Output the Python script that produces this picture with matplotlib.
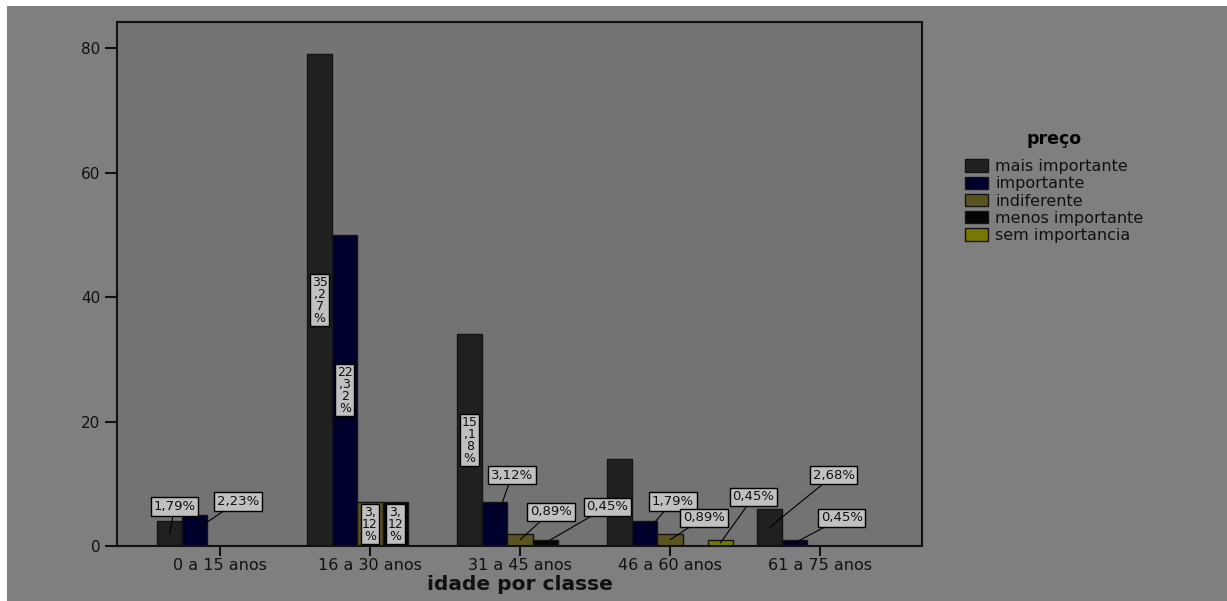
import matplotlib.pyplot as plt
from matplotlib.patches import Rectangle
import numpy as np

# counts per age class for each "preço" rating
groups = ['0 a 15 anos', '16 a 30 anos', '31 a 45 anos', '46 a 60 anos', '61 a 75 anos']
levels = ['mais importante', 'importante', 'indiferente', 'menos importante', 'sem importancia']
mais_importante = [4, 79, 34, 14, 6]
importante = [5, 50, 7, 4, 1]
indiferente = [0, 7, 2, 2, 0]
menos_importante = [0, 7, 1, 0, 0]
sem_importancia = [0, 0, 0, 1, 0]

counts = [mais_importante, importante, indiferente, menos_importante, sem_importancia]
total = sum(sum(c) for c in counts)
colors = ['#202020', '#00002c', '#5a5420', '#050505', '#787800']

# (level, group) -> pixel offset of the callout box, None = label inside the bar
callouts = {
    (0, 0): (5, 27), (1, 0): (43, 29),
    (0, 1): None, (1, 1): None, (2, 1): None, (3, 1): None,
    (0, 2): None, (1, 2): (17, 49), (2, 2): (31, 28), (3, 2): (62, 36),
    (1, 3): (28, 32), (2, 3): (34, 22), (4, 3): (33, 46),
    (0, 4): (64, 52), (1, 4): (47, 25),
}


def fmt(v):
    return f'{v / total * 100:.2f}'.replace('.', ',') + '%'


def stack(s):
    body = s[:-1]
    lines = [body[k:k + 2] for k in range(0, len(body), 2)]
    return '\n'.join(lines + ['%'])


plt.rcParams['font.family'] = 'DejaVu Sans'
fig = plt.figure(figsize=(12.27, 6.01), dpi=100, facecolor='white')
fig.add_artist(Rectangle((7 / 1227, 0), 1, 595 / 601, transform=fig.transFigure,
                         facecolor='#7f7f7f', edgecolor='none', zorder=-10))
ax = fig.add_axes([117 / 1227, 55 / 601, 805 / 1227, 524 / 601])
ax.set_facecolor('#737373')

x = np.arange(len(groups))
w = 0.168
for i, (lvl, vals) in enumerate(zip(levels, counts)):
    ax.bar(x + (i - 2) * w, vals, w, color=colors[i], edgecolor='#141414',
           linewidth=1, label=lvl, zorder=2)

box = dict(boxstyle='square,pad=0.2', fc='#c0c0c0', ec='black', lw=1)
for (i, g), off in callouts.items():
    h = counts[i][g]
    xc = x[g] + (i - 2) * w
    s = fmt(h)
    if off is None:
        ax.text(xc, h / 2, stack(s), ha='center', va='center', fontsize=9,
                linespacing=0.9, color='#111111', zorder=4,
                bbox=dict(boxstyle='square,pad=0.12', fc='#c0c0c0', ec='black', lw=1))
    else:
        ax.annotate(s, xy=(xc, h / 2), xytext=off, textcoords='offset pixels',
                    ha='center', va='center', fontsize=9.5, color='#111111',
                    bbox=box, zorder=4,
                    arrowprops=dict(arrowstyle='-', color='black', lw=0.8,
                                    shrinkA=0, shrinkB=0))

ax.set_xlim(-0.687, 4.68)
ax.set_ylim(0, 84.2)
ax.set_xticks(x, groups)
ax.set_yticks([0, 20, 40, 60, 80])
ax.tick_params(axis='x', length=7, width=1.5, labelsize=11.5, pad=2, colors='#111111')
ax.tick_params(axis='y', length=9, width=1.5, labelsize=11, pad=3, colors='#111111')
for sp in ax.spines.values():
    sp.set_linewidth(1.5)
    sp.set_color('#111111')

ax.set_xlabel('idade por classe', fontsize=14.5, fontweight='bold', labelpad=1, color='#111111')

leg = ax.legend(loc='upper left', bbox_to_anchor=(965 / 1227, 1 - 130 / 601),
                bbox_transform=fig.transFigure, frameon=False, title='preço',
                title_fontproperties={'weight': 'bold', 'size': 12.5}, fontsize=11.5,
                handlelength=1.45, handleheight=0.8, handletextpad=0.45,
                labelspacing=0.14, borderpad=0, borderaxespad=0)
leg._legend_box.sep = 8
for t in leg.get_texts():
    t.set_color('#111111')

fig.savefig('out.png', dpi=100, facecolor=fig.get_facecolor())
